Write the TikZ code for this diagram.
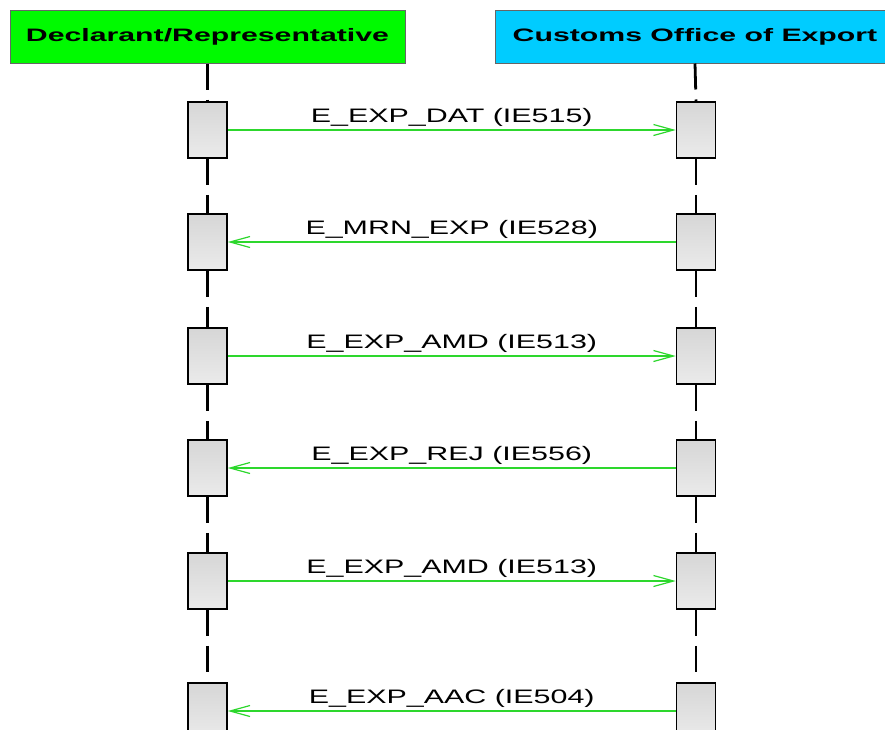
\documentclass[tikz,border=0pt]{standalone}
\usepackage{fontspec}
\newfontfamily\msgfont[FakeStretch=1.56]{Liberation Sans}
\newfontfamily\headfont[FakeStretch=1.68]{Liberation Sans Bold}
\usetikzlibrary{
        arrows.meta,
        positioning
    }
\definecolor{actorgreen}{RGB}{0,250,0}
\definecolor{actorcyan}{RGB}{0,204,255}
\definecolor{msggreen}{RGB}{45,215,45}
\tikzset{
  actor/.style={draw=black!60,line width=1pt,minimum height=53pt,inner sep=0pt,
    font=\headfont\fontsize{18}{18}\selectfont},
  activation/.style={draw=black,line width=1.5pt,minimum width=39pt,minimum height=56pt,
    inner sep=0pt,top color=black!16,bottom color=black!8},
  lifeline/.style={line width=2.8pt,dash pattern=on 26pt off 10pt},
  msg/.style={draw=msggreen,line width=1.2pt,-{Straight Barb[length=20pt,width=11pt]}},
  msglabel/.style={anchor=base,yshift=8pt,text=black,font=\msgfont\fontsize{19.5}{19.5}\selectfont}
}

\begin{document}
\begin{tikzpicture}[x=1pt,y=-1pt]
    \useasboundingbox (0,0) rectangle (885,729);
    \clip (0,0) rectangle (885,729);
    % actors
    \node[actor,fill=actorgreen,minimum width=395pt] (decl) at (207.5,36.5) {Declarant/Representative};
    \node[actor,fill=actorcyan,minimum width=400pt] (office) at (695,36.5) {Customs Office of Export};

    % activations
    \node[activation] (d1) at (207.5,130) {};
    \node[activation] (d2) at (207.5,242) {};
    \node[activation] (d3) at (207.5,356) {};
    \node[activation] (d4) at (207.5,468) {};
    \node[activation] (d5) at (207.5,581) {};
    \node[activation] (d6) at (207.5,711) {};
    \node[activation] (c1) at (696,130) {};
    \node[activation] (c2) at (696,242) {};
    \node[activation] (c3) at (696,356) {};
    \node[activation] (c4) at (696,468) {};
    \node[activation] (c5) at (696,581) {};
    \node[activation] (c6) at (696,711) {};

    % lifelines
    \draw[lifeline] (decl.south) -- (d1.north);
    \draw[lifeline] (d1.south) -- (d2.north);
    \draw[lifeline] (d2.south) -- (d3.north);
    \draw[lifeline] (d3.south) -- (d4.north);
    \draw[lifeline] (d4.south) -- (d5.north);
    \draw[lifeline] (d5.south) -- (d6.north);
    \draw[lifeline] (office.south) -- (c1.north);
    \draw[lifeline] (c1.south) -- (c2.north);
    \draw[lifeline] (c2.south) -- (c3.north);
    \draw[lifeline] (c3.south) -- (c4.north);
    \draw[lifeline] (c4.south) -- (c5.north);
    \draw[lifeline] (c5.south) -- (c6.north);

    % messages
    \path[msg]
        (d1) edge node[msglabel] {E\_EXP\_DAT (IE515)} (c1)
        (c2) edge node[msglabel] {E\_MRN\_EXP (IE528)} (d2)
        (d3) edge node[msglabel] {E\_EXP\_AMD (IE513)} (c3)
        (c4) edge node[msglabel] {E\_EXP\_REJ (IE556)} (d4)
        (d5) edge node[msglabel] {E\_EXP\_AMD (IE513)} (c5)
        (c6) edge node[msglabel] {E\_EXP\_AAC (IE504)} (d6)
    ;
\end{tikzpicture}
\end{document}
